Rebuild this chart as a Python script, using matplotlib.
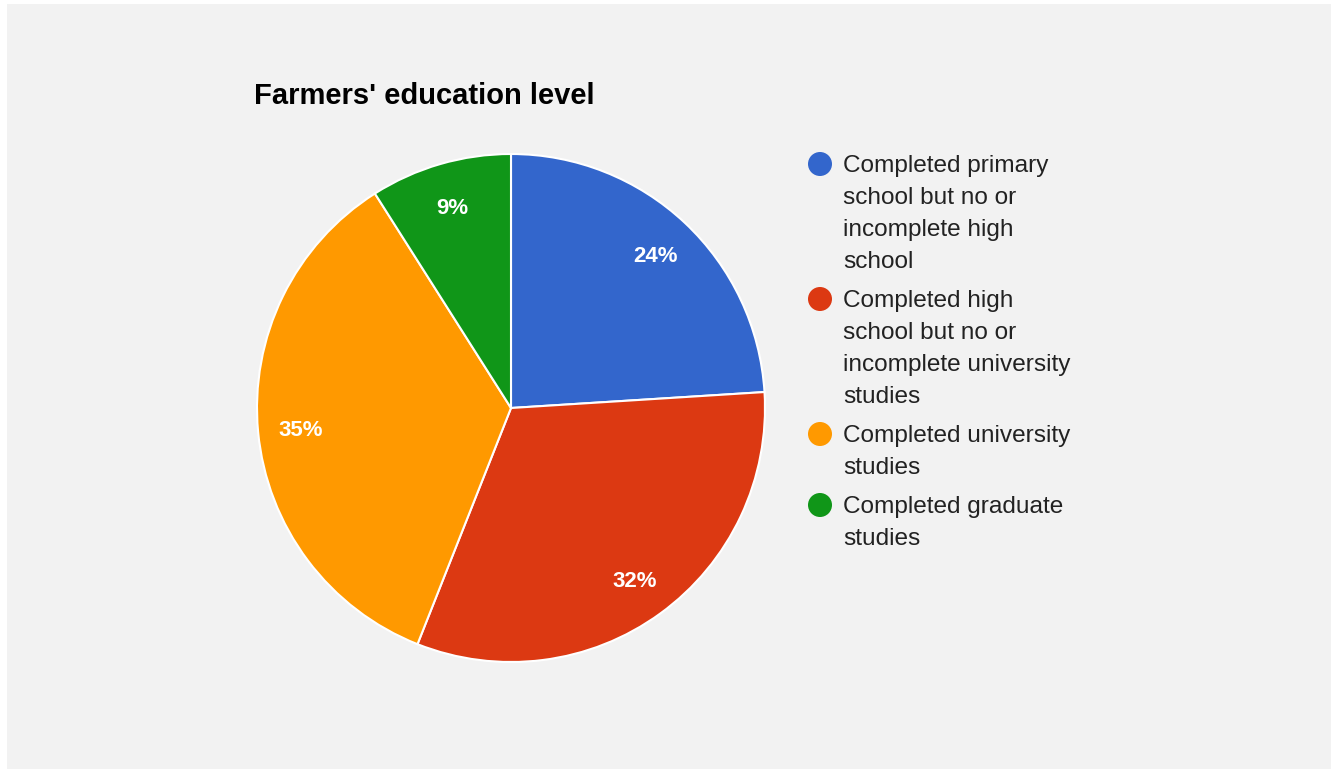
"""Pie chart: farmers' education level."""

import matplotlib.pyplot as plt
from matplotlib.patches import Rectangle, Circle

plt.rcParams["font.family"] = ["Liberation Sans", "DejaVu Sans"]

categorias = [
    "Completed primary school but no or incomplete high school",
    "Completed high school but no or incomplete university studies",
    "Completed university studies",
    "Completed graduate studies",
]
linhas_legenda = [
    ["Completed primary", "school but no or", "incomplete high", "school"],
    ["Completed high", "school but no or", "incomplete university", "studies"],
    ["Completed university", "studies"],
    ["Completed graduate", "studies"],
]
percentuais = [24, 32, 35, 9]
cores = ["#3366cc", "#dc3912", "#ff9900", "#109618"]

W, H = 1331, 769
fig = plt.figure(figsize=(W / 100, H / 100), dpi=100)
fig.patch.set_facecolor("white")
fig.patches.append(Rectangle((7 / W, 0), 1, 1 - 4 / H, transform=fig.transFigure,
                             facecolor="#f2f2f2", edgecolor="none", zorder=-10))

# pizza centrada em (511, 408) px com raio de 254 px
cx, cy, r = 511, 408, 254
ax = fig.add_axes([(cx - r) / W, (H - cy - r) / H, 2 * r / W, 2 * r / H])
_, _, rotulos = ax.pie(percentuais, colors=cores, startangle=90, counterclock=False,
                       autopct="%d%%", pctdistance=0.83,
                       wedgeprops=dict(edgecolor="white", linewidth=1.5),
                       textprops=dict(color="white", fontsize=16, fontweight="bold"))
for t in rotulos:
    t.set_va("center_baseline")
ax.set_xlim(-1, 1)
ax.set_ylim(-1, 1)
ax.set_aspect("equal")
ax.axis("off")

# camada em pixels para título e legenda
sob = fig.add_axes([0, 0, 1, 1], zorder=5)
sob.set_xlim(0, W)
sob.set_ylim(H, 0)
sob.axis("off")

sob.text(254, 104, "Farmers' education level", fontsize=21, fontweight="bold",
         color="black", va="baseline", ha="left")

y = 172
for cor, linhas in zip(cores, linhas_legenda):
    sob.add_patch(Circle((820, y - 8), 12, facecolor=cor, edgecolor="none"))
    for linha in linhas:
        sob.text(843, y, linha, fontsize=17.6, color="#222222",
                 va="baseline", ha="left")
        y += 32
    y += 7

fig.savefig("out.png", dpi=100)
plt.close(fig)
